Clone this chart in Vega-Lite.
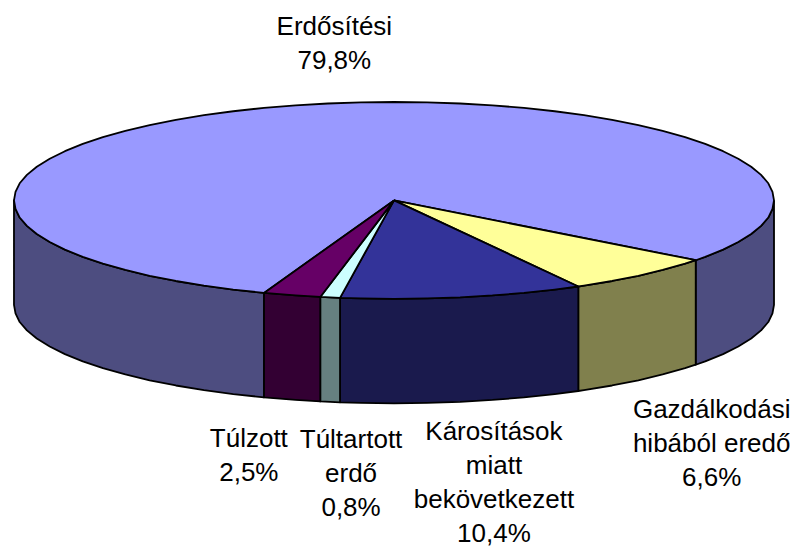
{"$schema":"https://vega.github.io/schema/vega-lite/v6.json","width":793,"height":546,"autosize":{"type":"none"},"padding":0,"background":"white","view":{"stroke":null},
"layer":[
{"data":{"values":[
{"p":"s_erd","u":-0.342,"v":0.94},{"p":"s_erd","u":-0.423,"v":0.906},{"p":"s_erd","u":-0.5,"v":0.866},{"p":"s_erd","u":-0.574,"v":0.819},{"p":"s_erd","u":-0.643,"v":0.766},{"p":"s_erd","u":-0.707,"v":0.707},{"p":"s_erd","u":-0.766,"v":0.643},{"p":"s_erd","u":-0.819,"v":0.574},{"p":"s_erd","u":-0.866,"v":0.5},{"p":"s_erd","u":-0.906,"v":0.423},{"p":"s_erd","u":-0.94,"v":0.342},{"p":"s_erd","u":-0.966,"v":0.259},{"p":"s_erd","u":-0.985,"v":0.174},{"p":"s_erd","u":-0.996,"v":0.087},{"p":"s_erd","u":-1,"v":0},
{"p":"s_erd","u":-1,"v":1.062},{"p":"s_erd","u":-0.996,"v":1.149},{"p":"s_erd","u":-0.985,"v":1.236},{"p":"s_erd","u":-0.966,"v":1.321},{"p":"s_erd","u":-0.94,"v":1.404},{"p":"s_erd","u":-0.906,"v":1.485},{"p":"s_erd","u":-0.866,"v":1.562},{"p":"s_erd","u":-0.819,"v":1.636},{"p":"s_erd","u":-0.766,"v":1.705},{"p":"s_erd","u":-0.707,"v":1.769},{"p":"s_erd","u":-0.643,"v":1.828},{"p":"s_erd","u":-0.574,"v":1.881},{"p":"s_erd","u":-0.5,"v":1.928},{"p":"s_erd","u":-0.423,"v":1.968},{"p":"s_erd","u":-0.342,"v":2.002},{"p":"s_erd","u":-0.342,"v":0.94},
{"p":"s_erd2","u":1,"v":0},{"p":"s_erd2","u":0.996,"v":0.087},{"p":"s_erd2","u":0.985,"v":0.174},{"p":"s_erd2","u":0.966,"v":0.259},{"p":"s_erd2","u":0.94,"v":0.342},{"p":"s_erd2","u":0.906,"v":0.423},{"p":"s_erd2","u":0.866,"v":0.5},{"p":"s_erd2","u":0.819,"v":0.574},{"p":"s_erd2","u":0.794,"v":0.608},
{"p":"s_erd2","u":0.794,"v":1.67},{"p":"s_erd2","u":0.819,"v":1.636},{"p":"s_erd2","u":0.866,"v":1.562},{"p":"s_erd2","u":0.906,"v":1.485},{"p":"s_erd2","u":0.94,"v":1.404},{"p":"s_erd2","u":0.966,"v":1.321},{"p":"s_erd2","u":0.985,"v":1.236},{"p":"s_erd2","u":0.996,"v":1.149},{"p":"s_erd2","u":1,"v":1.062},{"p":"s_erd2","u":1,"v":0},
{"p":"s_gazd","u":0.794,"v":0.608},{"p":"s_gazd","u":0.766,"v":0.643},{"p":"s_gazd","u":0.707,"v":0.707},{"p":"s_gazd","u":0.643,"v":0.766},{"p":"s_gazd","u":0.574,"v":0.819},{"p":"s_gazd","u":0.5,"v":0.866},{"p":"s_gazd","u":0.485,"v":0.875},
{"p":"s_gazd","u":0.485,"v":1.937},{"p":"s_gazd","u":0.5,"v":1.928},{"p":"s_gazd","u":0.574,"v":1.881},{"p":"s_gazd","u":0.643,"v":1.828},{"p":"s_gazd","u":0.707,"v":1.769},{"p":"s_gazd","u":0.766,"v":1.705},{"p":"s_gazd","u":0.794,"v":1.67},{"p":"s_gazd","u":0.794,"v":0.608},
{"p":"s_kar","u":0.485,"v":0.875},{"p":"s_kar","u":0.423,"v":0.906},{"p":"s_kar","u":0.342,"v":0.94},{"p":"s_kar","u":0.259,"v":0.966},{"p":"s_kar","u":0.174,"v":0.985},{"p":"s_kar","u":0.087,"v":0.996},{"p":"s_kar","u":0,"v":1},{"p":"s_kar","u":-0.087,"v":0.996},{"p":"s_kar","u":-0.142,"v":0.99},
{"p":"s_kar","u":-0.142,"v":2.052},{"p":"s_kar","u":-0.087,"v":2.058},{"p":"s_kar","u":0,"v":2.062},{"p":"s_kar","u":0.087,"v":2.058},{"p":"s_kar","u":0.174,"v":2.047},{"p":"s_kar","u":0.259,"v":2.028},{"p":"s_kar","u":0.342,"v":2.002},{"p":"s_kar","u":0.423,"v":1.968},{"p":"s_kar","u":0.485,"v":1.937},{"p":"s_kar","u":0.485,"v":0.875},
{"p":"s_tult","u":-0.142,"v":0.99},{"p":"s_tult","u":-0.194,"v":0.981},{"p":"s_tult","u":-0.194,"v":2.043},{"p":"s_tult","u":-0.142,"v":2.052},{"p":"s_tult","u":-0.142,"v":0.99},
{"p":"s_tulz","u":-0.194,"v":0.981},{"p":"s_tulz","u":-0.259,"v":0.966},{"p":"s_tulz","u":-0.342,"v":0.94},{"p":"s_tulz","u":-0.342,"v":2.002},{"p":"s_tulz","u":-0.259,"v":2.028},{"p":"s_tulz","u":-0.194,"v":2.043},{"p":"s_tulz","u":-0.194,"v":0.981},
{"p":"t_erd","u":0,"v":0},{"p":"t_erd","u":0.794,"v":0.608},{"p":"t_erd","u":0.819,"v":0.574},{"p":"t_erd","u":0.866,"v":0.5},{"p":"t_erd","u":0.906,"v":0.423},{"p":"t_erd","u":0.94,"v":0.342},{"p":"t_erd","u":0.966,"v":0.259},{"p":"t_erd","u":0.985,"v":0.174},{"p":"t_erd","u":0.996,"v":0.087},{"p":"t_erd","u":1,"v":0},
{"p":"t_erd","u":0.996,"v":-0.087},{"p":"t_erd","u":0.985,"v":-0.174},{"p":"t_erd","u":0.966,"v":-0.259},{"p":"t_erd","u":0.94,"v":-0.342},{"p":"t_erd","u":0.906,"v":-0.423},{"p":"t_erd","u":0.866,"v":-0.5},{"p":"t_erd","u":0.819,"v":-0.574},{"p":"t_erd","u":0.766,"v":-0.643},{"p":"t_erd","u":0.707,"v":-0.707},{"p":"t_erd","u":0.643,"v":-0.766},{"p":"t_erd","u":0.574,"v":-0.819},{"p":"t_erd","u":0.5,"v":-0.866},{"p":"t_erd","u":0.423,"v":-0.906},{"p":"t_erd","u":0.342,"v":-0.94},{"p":"t_erd","u":0.259,"v":-0.966},{"p":"t_erd","u":0.174,"v":-0.985},{"p":"t_erd","u":0.087,"v":-0.996},{"p":"t_erd","u":0,"v":-1},
{"p":"t_erd","u":-0.087,"v":-0.996},{"p":"t_erd","u":-0.174,"v":-0.985},{"p":"t_erd","u":-0.259,"v":-0.966},{"p":"t_erd","u":-0.342,"v":-0.94},{"p":"t_erd","u":-0.423,"v":-0.906},{"p":"t_erd","u":-0.5,"v":-0.866},{"p":"t_erd","u":-0.574,"v":-0.819},{"p":"t_erd","u":-0.643,"v":-0.766},{"p":"t_erd","u":-0.707,"v":-0.707},{"p":"t_erd","u":-0.766,"v":-0.643},{"p":"t_erd","u":-0.819,"v":-0.574},{"p":"t_erd","u":-0.866,"v":-0.5},{"p":"t_erd","u":-0.906,"v":-0.423},{"p":"t_erd","u":-0.94,"v":-0.342},{"p":"t_erd","u":-0.966,"v":-0.259},{"p":"t_erd","u":-0.985,"v":-0.174},{"p":"t_erd","u":-0.996,"v":-0.087},{"p":"t_erd","u":-1,"v":0},
{"p":"t_erd","u":-0.996,"v":0.087},{"p":"t_erd","u":-0.985,"v":0.174},{"p":"t_erd","u":-0.966,"v":0.259},{"p":"t_erd","u":-0.94,"v":0.342},{"p":"t_erd","u":-0.906,"v":0.423},{"p":"t_erd","u":-0.866,"v":0.5},{"p":"t_erd","u":-0.819,"v":0.574},{"p":"t_erd","u":-0.766,"v":0.643},{"p":"t_erd","u":-0.707,"v":0.707},{"p":"t_erd","u":-0.643,"v":0.766},{"p":"t_erd","u":-0.574,"v":0.819},{"p":"t_erd","u":-0.5,"v":0.866},{"p":"t_erd","u":-0.423,"v":0.906},{"p":"t_erd","u":-0.342,"v":0.94},{"p":"t_erd","u":0,"v":0},
{"p":"t_gazd","u":0,"v":0},{"p":"t_gazd","u":0.794,"v":0.608},{"p":"t_gazd","u":0.766,"v":0.643},{"p":"t_gazd","u":0.707,"v":0.707},{"p":"t_gazd","u":0.643,"v":0.766},{"p":"t_gazd","u":0.574,"v":0.819},{"p":"t_gazd","u":0.5,"v":0.866},{"p":"t_gazd","u":0.485,"v":0.875},{"p":"t_gazd","u":0,"v":0},
{"p":"t_kar","u":0,"v":0},{"p":"t_kar","u":0.485,"v":0.875},{"p":"t_kar","u":0.423,"v":0.906},{"p":"t_kar","u":0.342,"v":0.94},{"p":"t_kar","u":0.259,"v":0.966},{"p":"t_kar","u":0.174,"v":0.985},{"p":"t_kar","u":0.087,"v":0.996},{"p":"t_kar","u":0,"v":1},{"p":"t_kar","u":-0.087,"v":0.996},{"p":"t_kar","u":-0.142,"v":0.99},{"p":"t_kar","u":0,"v":0},
{"p":"t_tult","u":0,"v":0},{"p":"t_tult","u":-0.142,"v":0.99},{"p":"t_tult","u":-0.194,"v":0.981},{"p":"t_tult","u":0,"v":0},
{"p":"t_tulz","u":0,"v":0},{"p":"t_tulz","u":-0.194,"v":0.981},{"p":"t_tulz","u":-0.259,"v":0.966},{"p":"t_tulz","u":-0.342,"v":0.94},{"p":"t_tulz","u":0,"v":0}
]},
"transform":[{"window":[{"op":"row_number","as":"seq"}]}],
"mark":{"type":"line","stroke":"black","strokeWidth":1.8,"strokeJoin":"round","clip":false},
"encoding":{
"x":{"field":"u","type":"quantitative","scale":{"domain":[-1.0368,1.05],"nice":false,"zero":false},"axis":null},
"y":{"field":"v","type":"quantitative","scale":{"domain":[-2.0366,3.5122],"reverse":true,"nice":false,"zero":false},"axis":null},
"detail":{"field":"p"},
"order":{"field":"seq"},
"fill":{"field":"p","type":"nominal","legend":null,"scale":{"domain":["s_erd","s_erd2","s_gazd","s_kar","s_tult","s_tulz","t_erd","t_gazd","t_kar","t_tult","t_tulz"],"range":["#4D4D80","#4D4D80","#80804D","#1A1A4D","#668080","#330033","#9999FF","#FFFF99","#333399","#CCFFFF","#660066"]}}
}},
{"data":{"values":[
{"label":"Erdősítési\n79,8%","u":-0.157,"v":-1.89},
{"label":"Túlzott\n2,5%","u":-0.382,"v":2.29},
{"label":"Túltartott\nerdő\n0,8%","u":-0.113,"v":2.3},
{"label":"Károsítások\nmiatt\nbekövetkezett\n10,4%","u":0.263,"v":2.22},
{"label":"Gazdálkodási\nhibából eredő\n6,6%","u":0.836,"v":2.0}
]},
"mark":{"type":"text","font":"Liberation Sans","fontSize":26,"lineHeight":34,"lineBreak":"\n","align":"center","baseline":"top","color":"black"},
"encoding":{
"x":{"field":"u","type":"quantitative"},
"y":{"field":"v","type":"quantitative"},
"text":{"field":"label"}
}}
]}
